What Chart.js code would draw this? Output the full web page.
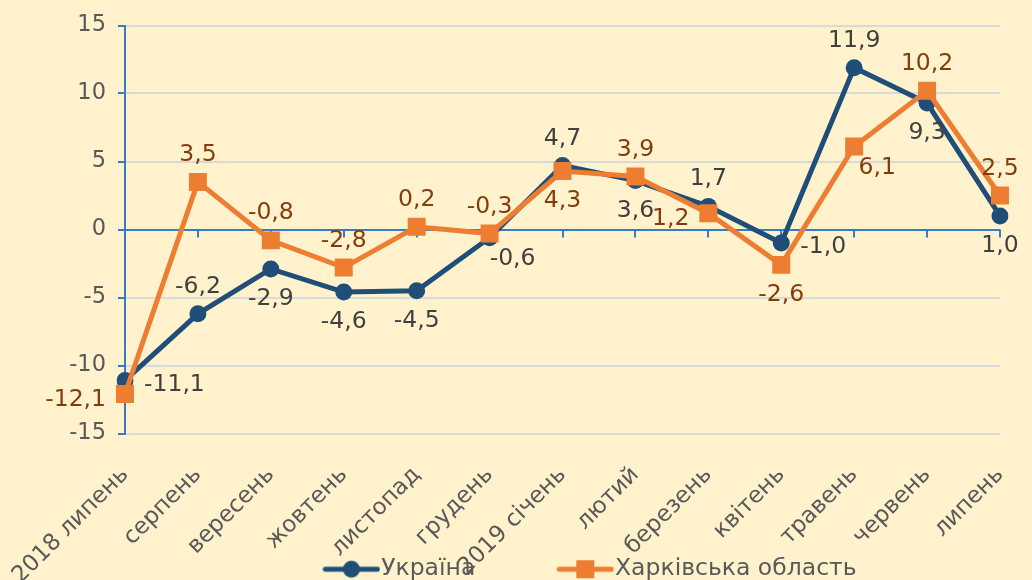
<!DOCTYPE html>
<html>
<head>
<meta charset="utf-8">
<script src="https://cdn.jsdelivr.net/npm/chart.js@4"></script>
<style>
  html, body { margin: 0; padding: 0; overflow: hidden; background: #FFF2CC; }
  #wrap { width: 1032px; height: 580px; position: relative; }
</style>
</head>
<body>
<div id="wrap"><canvas id="lineChart"></canvas></div>
<script>
// categories and values
const months = ['2018 липень', 'серпень', 'вересень', 'жовтень', 'листопад', 'грудень',
  '2019 січень', 'лютий', 'березень', 'квітень', 'травень', 'червень', 'липень'];
const ukraine = [-11.1, -6.2, -2.9, -4.6, -4.5, -0.6, 4.7, 3.6, 1.7, -1.0, 11.9, 9.3, 1.0];
const kharkiv = [-12.1, 3.5, -0.8, -2.8, 0.2, -0.3, 4.3, 3.9, 1.2, -2.6, 6.1, 10.2, 2.5];
const yMin = -15, yMax = 15, yStep = 5;

// where each value label sits relative to its point
const ukraineLabelPos = ['right', 'top', 'bottom', 'bottom', 'bottom', 'bottomright', 'top',
  'bottom', 'top', 'right', 'top', 'bottom', 'bottom'];
const kharkivLabelPos = ['left', 'top', 'top', 'top', 'top', 'top', 'bottom',
  'top', 'left', 'bottom', 'bottomright', 'top', 'top'];

const BLUE = '#1F4E79';
const ORANGE = '#ED7D31';
const AXIS = '#3A7CC3';
const GRID = '#D9D9D9';
const TEXT = '#595959';
const FONT = 'DejaVu Sans, Verdana, sans-serif';

const offsets = {
  top: [0, -27, 'center'],
  bottom: [0, 30, 'center'],
  left: [-19, 6, 'right'],
  right: [19, 4, 'left'],
  bottomright: [23, 21, 'center']
};

function legendIcon(color, square) {
  const c = document.createElement('canvas');
  c.width = 58; c.height = 20;
  const g = c.getContext('2d');
  g.strokeStyle = color;
  g.lineWidth = 5;
  g.lineCap = 'round';
  g.beginPath(); g.moveTo(3, 10); g.lineTo(55, 10); g.stroke();
  g.fillStyle = color;
  if (square) {
    g.fillRect(29 - 9, 10 - 9, 18, 18);
  } else {
    g.beginPath(); g.arc(29, 10, 8.5, 0, Math.PI * 2); g.fill();
  }
  return c;
}

const valueLabels = {
  id: 'valueLabels',
  afterDatasetsDraw(chart) {
    const ctx = chart.ctx;
    ctx.save();
    ctx.font = '23.5px ' + FONT;
    ctx.textBaseline = 'middle';
    chart.data.datasets.forEach((ds, i) => {
      const meta = chart.getDatasetMeta(i);
      meta.data.forEach((pt, j) => {
        const o = offsets[ds.labelPos[j]];
        ctx.fillStyle = ds.labelColor;
        ctx.textAlign = o[2];
        ctx.fillText(ds.data[j].toFixed(1).replace('.', ','), pt.x + o[0], pt.y + o[1]);
      });
    });
    ctx.restore();
  }
};

// small tick marks hanging from the zero line
const zeroTicks = {
  id: 'zeroTicks',
  beforeDatasetsDraw(chart) {
    const ctx = chart.ctx;
    const x = chart.scales.x, y = chart.scales.y;
    const y0 = y.getPixelForValue(0);
    ctx.save();
    ctx.strokeStyle = AXIS;
    ctx.lineWidth = 2;
    months.forEach((m, i) => {
      const px = Math.round(x.getPixelForValue(i));
      ctx.beginPath(); ctx.moveTo(px, y0); ctx.lineTo(px, y0 + 8); ctx.stroke();
    });
    ctx.restore();
  }
};

// the month labels overlap the legend in the original, so squeeze the boxes
const squeeze = {
  id: 'squeeze',
  afterLayout(chart) {
    chart.scales.x.bottom = chart.height; // don't clip the rotated labels
    const lg = chart.legend;
    lg.left += 95;
    lg.right += 95;
    lg.top += 11;
    lg.bottom += 11;
  }
};

new Chart(document.getElementById('lineChart'), {
  type: 'line',
  data: {
    labels: months,
    datasets: [{
      label: 'Україна',
      data: ukraine,
      order: 2,
      borderColor: BLUE,
      backgroundColor: BLUE,
      borderWidth: 5,
      pointStyle: 'circle',
      pointRadius: 8.5,
      pointBorderWidth: 0,
      pointBackgroundColor: BLUE,
      labelPos: ukraineLabelPos,
      labelColor: '#404040',
      legendIcon: legendIcon(BLUE, false)
    }, {
      label: 'Харківська область',
      data: kharkiv,
      order: 1,
      borderColor: ORANGE,
      backgroundColor: ORANGE,
      borderWidth: 5,
      pointStyle: 'rect',
      pointRadius: 12.7,
      pointBorderWidth: 0,
      pointBackgroundColor: ORANGE,
      labelPos: kharkivLabelPos,
      labelColor: '#843C0C',
      legendIcon: legendIcon(ORANGE, true)
    }]
  },
  options: {
    responsive: true,
    maintainAspectRatio: false,
    animation: false,
    layout: { padding: { top: 23, right: 32, left: 0, bottom: 0 } },
    scales: {
      x: {
        grid: { display: false },
        border: { display: false },
        ticks: {
          autoSkip: false,
          minRotation: 45,
          maxRotation: 45,
          padding: 20,
          color: TEXT,
          font: { family: FONT, size: 23 }
        },
        afterFit(scale) {
          scale.height = 21;
          scale.paddingLeft = 0;
          scale.paddingRight = 0;
        }
      },
      y: {
        min: yMin,
        max: yMax,
        ticks: {
          stepSize: yStep,
          padding: 12,
          color: TEXT,
          font: { family: FONT, size: 22.5 },
          callback: v => String(v)
        },
        grid: {
          color: c => c.tick && c.tick.value === 0 ? AXIS : GRID,
          lineWidth: 2,
          tickColor: AXIS,
          tickLength: 7
        },
        border: { color: AXIS, width: 2 },
        afterFit(scale) { scale.width = 125; }
      }
    },
    plugins: {
      tooltip: { enabled: false },
      legend: {
        position: 'bottom',
        labels: {
          usePointStyle: true,
          pointStyleWidth: 36,
          boxHeight: 20,
          padding: 92,
          color: TEXT,
          font: { family: FONT, size: 23.5 },
          sort: (a, b) => a.datasetIndex - b.datasetIndex,
          generateLabels(chart) {
            return chart.data.datasets.map((ds, i) => ({
              text: ds.label,
              datasetIndex: i,
              pointStyle: ds.legendIcon,
              fillStyle: ds.borderColor,
              strokeStyle: ds.borderColor,
              lineWidth: 0,
              fontColor: TEXT,
              hidden: false
            }));
          }
        }
      }
    }
  },
  plugins: [zeroTicks, valueLabels, squeeze]
});
</script>
</body>
</html>
